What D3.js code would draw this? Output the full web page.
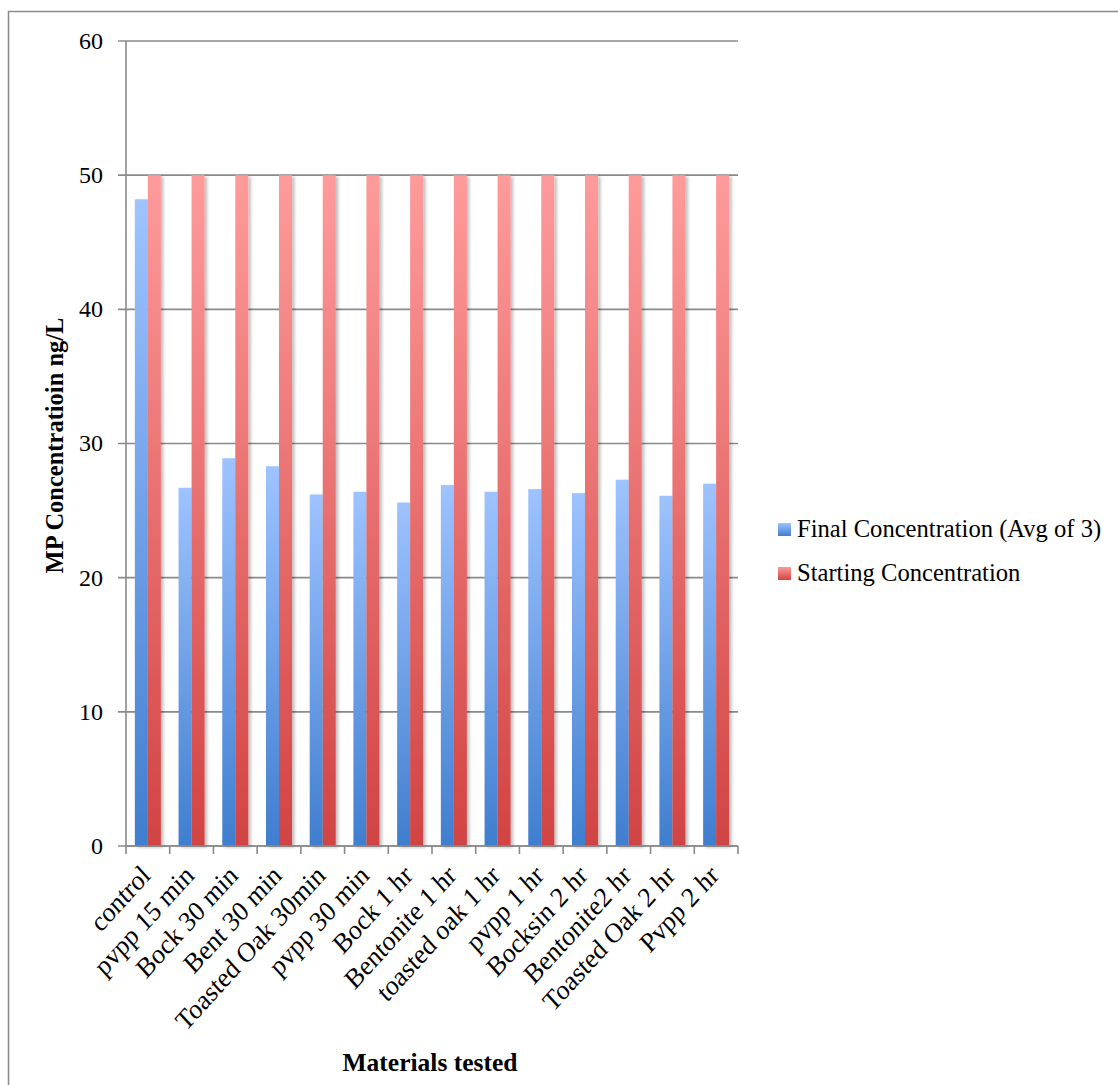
<!DOCTYPE html>
<html>
<head>
<meta charset="utf-8">
<script src="https://cdn.jsdelivr.net/npm/d3@7"></script>
<style>
  html, body { margin: 0; padding: 0; background: #fff; }
  svg { display: block; }
  text { font-family: "Liberation Serif", "Times New Roman", serif; fill: #000; }
</style>
</head>
<body>
<svg id="chart" width="1118" height="1085"></svg>
<script>
// Materials tested and the measured MP concentrations (ng/L)
const categories = [
  "control", "pvpp 15 min", "Bock 30 min", "Bent 30 min", "Toasted Oak 30min",
  "pvpp 30 min", "Bock 1 hr", "Bentonite 1 hr", "toasted oak 1 hr", "pvpp 1 hr",
  "Bocksin 2 hr", "Bentonite2 hr", "Toasted Oak 2 hr", "Pvpp 2 hr"
];
const finalConc = [48.2, 26.7, 28.9, 28.3, 26.2, 26.4, 25.6, 26.9, 26.4, 26.6, 26.3, 27.3, 26.1, 27.0];
const startConc = [50, 50, 50, 50, 50, 50, 50, 50, 50, 50, 50, 50, 50, 50];
const seriesNames = ["Final Concentration (Avg of 3)", "Starting Concentration"];
const yTicks = [0, 10, 20, 30, 40, 50, 60];

const svg = d3.select("#chart");
const plot = { left: 126, right: 738, top: 41, bottom: 846 };

// Chart frame
svg.append("rect")
  .attr("x", 8.5).attr("y", 11.5)
  .attr("width", 2000).attr("height", 2000)
  .attr("fill", "none").attr("stroke", "#8a8a8a").attr("stroke-width", 1.5);

const defs = svg.append("defs");
const grads = [
  { id: "gBlue", top: "#9ec3ff", bottom: "#3f7ecf" },
  { id: "gRed", top: "#ff9b9b", bottom: "#d14343" }
];
grads.forEach(g => {
  const lg = defs.append("linearGradient").attr("id", g.id)
    .attr("x1", 0).attr("y1", 0).attr("x2", 0).attr("y2", 1);
  lg.append("stop").attr("offset", "0%").attr("stop-color", g.top);
  lg.append("stop").attr("offset", "100%").attr("stop-color", g.bottom);
});
const shadow = defs.append("filter").attr("id", "barShadow")
  .attr("x", "-50%").attr("y", "-5%").attr("width", "200%").attr("height", "110%");
shadow.append("feDropShadow")
  .attr("dx", 2.5).attr("dy", 1.5).attr("stdDeviation", 1.8)
  .attr("flood-color", "#000").attr("flood-opacity", 0.25);

const y = d3.scaleLinear().domain([0, 60]).range([plot.bottom, plot.top]);
const x0 = d3.scaleBand().domain(categories).range([plot.left, plot.right]).padding(0);
const x1 = d3.scaleBand().domain([0, 1]).range([0, x0.bandwidth()]).paddingInner(0).paddingOuter(0.68);

// Horizontal gridlines
svg.append("g").selectAll("line").data(yTicks).join("line")
  .attr("x1", plot.left - 8).attr("x2", plot.right)
  .attr("y1", d => y(d)).attr("y2", d => y(d))
  .attr("stroke", "#8a8a8a").attr("stroke-width", 1.6);

// Y axis line
svg.append("line")
  .attr("x1", plot.left).attr("x2", plot.left)
  .attr("y1", plot.top).attr("y2", plot.bottom)
  .attr("stroke", "#8a8a8a").attr("stroke-width", 1.6);

// Y tick labels
svg.append("g").selectAll("text").data(yTicks).join("text")
  .attr("x", 103).attr("y", d => y(d))
  .attr("dy", "0.33em")
  .attr("text-anchor", "end")
  .style("font-size", "24px")
  .text(d => d);

// Bars
const groups = svg.append("g").selectAll("g").data(categories).join("g")
  .attr("transform", d => `translate(${x0(d)},0)`);
groups.each(function(cat, i) {
  const vals = [finalConc[i], startConc[i]];
  d3.select(this).selectAll("rect").data(vals).join("rect")
    .attr("x", (v, j) => x1(j))
    .attr("width", x1.bandwidth())
    .attr("y", v => y(v))
    .attr("height", v => y(0) - y(v))
    .attr("fill", (v, j) => j === 0 ? "url(#gBlue)" : "url(#gRed)")
    .attr("filter", "url(#barShadow)");
});

// X axis line and category ticks
svg.append("line")
  .attr("x1", plot.left).attr("x2", plot.right)
  .attr("y1", plot.bottom).attr("y2", plot.bottom)
  .attr("stroke", "#8a8a8a").attr("stroke-width", 1.6);
const boundaries = categories.map(c => x0(c)).concat([plot.right]);
svg.append("g").selectAll("line").data(boundaries).join("line")
  .attr("x1", d => d).attr("x2", d => d)
  .attr("y1", plot.bottom).attr("y2", plot.bottom + 8)
  .attr("stroke", "#8a8a8a").attr("stroke-width", 1.6);

// Rotated category labels (slightly taller than wide, as in the original sheet)
svg.append("g").selectAll("text").data(categories).join("text")
  .attr("transform", d => `translate(${x0(d) + x0.bandwidth() / 2 + 4},${plot.bottom + 31}) scale(1,1.1) rotate(-45)`)
  .attr("text-anchor", "end")
  .style("font-size", "25.5px")
  .text(d => d);

// Axis titles
svg.append("text")
  .attr("transform", `translate(63,${(plot.top + plot.bottom) / 2 + 2}) rotate(-90)`)
  .attr("text-anchor", "middle")
  .style("font-size", "24.5px").style("font-weight", "bold")
  .text("MP Concentratioin ng/L");
svg.append("text")
  .attr("x", 430).attr("y", 1071)
  .attr("text-anchor", "middle")
  .style("font-size", "25.5px").style("font-weight", "bold")
  .text("Materials tested");

// Legend
const legend = svg.append("g");
seriesNames.forEach((name, j) => {
  const cy = 529 + j * 44;
  legend.append("rect")
    .attr("x", 778).attr("y", cy - 6).attr("width", 13).attr("height", 13)
    .attr("fill", j === 0 ? "url(#gBlue)" : "url(#gRed)");
  legend.append("text")
    .attr("x", 797).attr("y", cy).attr("dy", "0.33em")
    .style("font-size", "24.6px")
    .text(name);
});
</script>
</body>
</html>
